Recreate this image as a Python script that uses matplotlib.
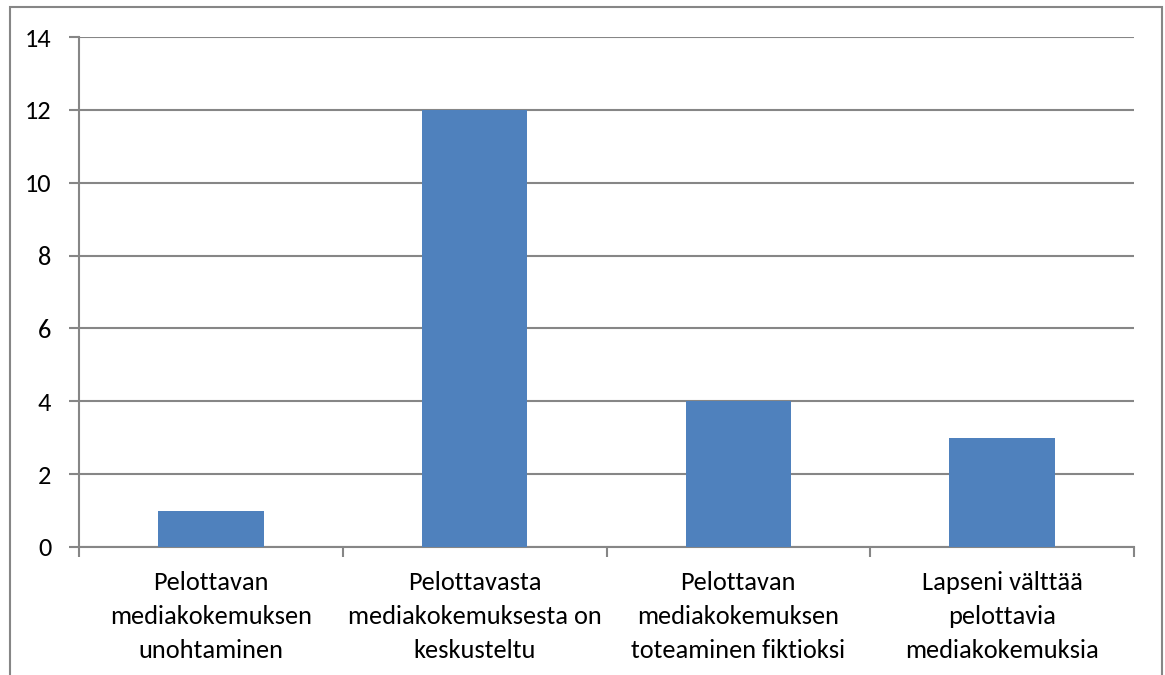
import matplotlib.pyplot as plt
from matplotlib.patches import Rectangle

# data
categories = [
    "Pelottavan\nmediakokemuksen\nunohtaminen",
    "Pelottavasta\nmediakokemuksesta on\nkeskusteltu",
    "Pelottavan\nmediakokemuksen\ntoteaminen fiktioksi",
    "Lapseni välttää\npelottavia\nmediakokemuksia",
]
values = [1, 12, 4, 3]
yticks = [0, 2, 4, 6, 8, 10, 12, 14]

grey = "#868686"
plt.rcParams["font.family"] = ["Carlito", "Lato", "DejaVu Sans"]

fig = plt.figure(figsize=(11.65, 6.75), dpi=100)
ax = fig.add_axes([79 / 1165, 1 - 547 / 675, (1134 - 79) / 1165, (547 - 37) / 675])

# chart area border (runs off the bottom of the image)
fig.patches.append(Rectangle((10 / 1165, -0.2), (1162 - 10) / 1165, 1.2 - 7 / 675,
                             transform=fig.transFigure, fill=False,
                             edgecolor=grey, linewidth=1.5, clip_on=False))

x = list(range(len(values)))
ax.bar(x, values, width=0.4, color="#4F81BD", zorder=3)

ax.set_xlim(-0.5, len(values) - 0.5)
ax.set_ylim(0, 14)
ax.set_yticks(yticks)
ax.yaxis.grid(True, color=grey, linewidth=1.5, zorder=0)

ax.set_xticks(x)
ax.set_xticklabels(categories, fontsize=19, linespacing=1.6)
ax.set_xticks([i - 0.5 for i in range(len(values) + 1)], minor=True)
ax.tick_params(axis="x", which="major", length=0, pad=17)
ax.tick_params(axis="x", which="minor", length=7, width=1.5, color=grey)
ax.tick_params(axis="y", length=7, width=1.5, color=grey, labelsize=19, pad=13)

for s in ["top", "right"]:
    ax.spines[s].set_visible(False)
for s in ["left", "bottom"]:
    ax.spines[s].set_color(grey)
    ax.spines[s].set_linewidth(1.5)

fig.savefig("out.png", dpi=100)
